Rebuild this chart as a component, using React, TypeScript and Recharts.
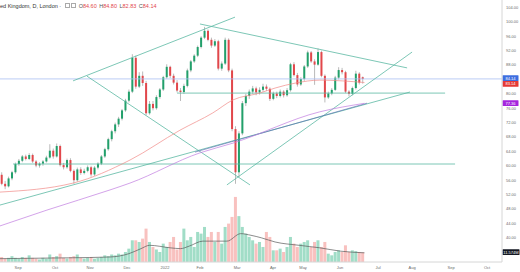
import { ComposedChart, Bar, Line, XAxis, YAxis, ReferenceLine, Cell } from 'recharts';

// candles (two trading days per candle), price in GBp
const opens = [57.5, 55.0, 54.3, 56.5, 58.2, 60.5, 61.4, 62.6, 61.9, 63.0, 61.2, 60.1, 60.6, 61.2, 62.3, 64.2, 62.6, 65.5, 60.2, 59.6, 61.6, 58.6, 56.0, 59.0, 58.0, 58.6, 59.6, 57.6, 59.5, 60.6, 62.6, 64.6, 67.4, 69.6, 71.5, 73.1, 75.4, 78.1, 80.6, 90.0, 82.0, 85.0, 83.0, 74.6, 77.2, 76.0, 79.1, 81.2, 84.6, 87.5, 85.0, 83.1, 80.9, 80.5, 82.2, 86.5, 89.0, 90.6, 93.0, 95.6, 97.5, 95.0, 93.4, 94.6, 87.0, 88.4, 95.0, 86.5, 70.2, 58.2, 69.0, 77.4, 79.4, 80.6, 81.5, 80.4, 81.1, 82.0, 81.4, 78.6, 80.1, 79.4, 80.6, 79.6, 81.0, 88.2, 85.2, 82.6, 84.1, 87.6, 91.5, 89.0, 88.1, 91.6, 85.0, 79.0, 80.1, 81.1, 84.5, 86.6, 86.0, 80.6, 80.0, 81.6, 85.6, 84.6];
const highs = [58.2, 55.8, 57.0, 58.6, 60.9, 61.9, 63.0, 63.1, 63.5, 63.4, 61.6, 61.0, 61.6, 62.8, 66.0, 64.8, 66.2, 65.9, 60.8, 62.0, 62.1, 59.0, 59.5, 59.6, 59.2, 60.1, 60.0, 59.9, 61.0, 63.0, 65.0, 67.8, 70.0, 72.0, 73.6, 75.8, 78.6, 81.2, 91.0, 90.6, 86.0, 86.2, 83.6, 78.0, 78.0, 79.6, 81.6, 85.0, 88.2, 87.8, 85.6, 83.8, 81.6, 82.8, 87.0, 89.4, 91.0, 93.4, 96.0, 98.6, 97.9, 95.6, 95.2, 95.0, 89.0, 95.6, 95.4, 87.0, 71.0, 69.6, 78.0, 80.0, 81.2, 82.2, 82.0, 81.8, 82.8, 82.6, 81.8, 80.6, 80.6, 81.2, 81.0, 81.6, 88.6, 88.8, 85.8, 84.6, 88.0, 92.0, 91.9, 89.6, 92.6, 92.0, 85.4, 80.6, 81.6, 85.0, 87.4, 87.2, 86.4, 81.0, 82.0, 86.4, 86.0, 84.8];
const lows = [54.6, 53.5, 54.0, 56.0, 57.8, 60.0, 61.0, 61.5, 61.6, 60.8, 59.6, 59.5, 60.0, 60.9, 62.0, 62.0, 62.3, 59.8, 59.0, 59.2, 58.2, 55.0, 55.6, 57.5, 57.6, 58.2, 57.0, 57.2, 59.0, 60.2, 62.2, 64.2, 66.8, 69.0, 70.8, 72.6, 75.0, 77.6, 80.2, 81.4, 81.6, 82.2, 74.0, 74.2, 75.4, 75.6, 78.6, 80.8, 84.2, 84.4, 82.6, 80.4, 78.0, 80.0, 81.8, 86.0, 88.6, 90.2, 92.6, 95.2, 94.6, 92.8, 93.0, 86.5, 86.4, 88.0, 86.0, 69.6, 55.0, 56.8, 68.5, 76.6, 78.6, 80.0, 79.6, 79.8, 80.6, 80.8, 78.0, 78.2, 78.8, 79.0, 79.0, 79.2, 80.6, 84.8, 82.0, 82.2, 83.6, 87.2, 88.6, 82.5, 87.8, 84.6, 77.6, 78.6, 79.6, 80.8, 84.0, 85.4, 80.2, 79.3, 79.6, 81.2, 82.6, 82.83];
const closes = [55.0, 54.3, 56.5, 58.2, 60.5, 61.4, 62.6, 61.9, 63.0, 61.2, 60.1, 60.6, 61.2, 62.3, 64.2, 62.6, 65.5, 60.2, 59.6, 61.6, 58.6, 56.0, 59.0, 58.0, 58.6, 59.6, 57.6, 59.5, 60.6, 62.6, 64.6, 67.4, 69.6, 71.5, 73.1, 75.4, 78.1, 80.6, 90.0, 82.0, 85.0, 83.0, 74.6, 77.2, 76.0, 79.1, 81.2, 84.6, 87.5, 85.0, 83.1, 80.9, 80.5, 82.2, 86.5, 89.0, 90.6, 93.0, 95.6, 97.5, 95.0, 93.4, 94.6, 87.0, 88.4, 95.0, 86.5, 70.2, 58.2, 69.0, 77.4, 79.4, 80.6, 81.5, 80.4, 81.1, 82.0, 81.4, 78.6, 80.1, 79.4, 80.6, 79.6, 81.0, 88.2, 85.2, 82.6, 84.1, 87.6, 91.5, 89.0, 88.1, 91.6, 85.0, 79.0, 80.1, 81.1, 84.5, 86.6, 86.0, 80.6, 80.0, 81.6, 85.6, 83.1, 84.14];
// volume, millions
const volumes = [6, 4, 5, 7, 5, 4, 6, 5, 8, 5, 4, 3, 5, 4, 9, 6, 7, 10, 5, 4, 6, 7, 9, 5, 4, 5, 6, 4, 5, 6, 8, 7, 9, 8, 10, 9, 12,
  16, 26, 26, 24, 28, 40, 24, 18, 15, 12, 22, 18, 24, 30, 15, 24, 40, 26, 30, 18, 36, 34, 42, 30, 36, 24, 36, 22, 42, 46,
  54, 78, 55, 42, 34, 30, 26, 22, 24, 18, 36, 30, 14, 14, 16, 12, 18, 30, 22, 18, 22, 24, 26, 18, 24, 26, 18, 24, 10, 8,
  12, 14, 12, 20, 12, 14, 13, 12, 11.574];

// moving averages, sampled as [day, value]
const ma50 = [[0, 52.7], [42.5, 55.2], [75.6, 61.6], [104.7, 69.9], [123.8, 74.7], [135.5, 78.3], [151, 80.2], [160, 81.6], [172, 83], [186, 83.8], [212, 83.14]];
const ma200 = [[0, 43.3], [27.3, 47.7], [64, 53.3], [75.6, 55.2], [116.3, 63.6], [135.5, 66.3], [186, 75], [212, 77.36]];
const volMa = [[0, 4], [40, 5], [64, 6], [75, 10], [82, 16], [87, 20], [99, 17], [105, 16], [110, 19], [118, 25], [132, 25], [140, 34], [146, 32], [152, 29], [160, 24], [174, 20], [186, 17], [198, 13], [212, 11]];

// drawn trend lines [[day, price], [day, price]]
const trendLines = [
  [[42.5, 83.6], [136.7, 101.3]],
  [[50.6, 84.9], [145.4, 54.7]],
  [[116.3, 99.4], [236.8, 87.2]],
  [[132, 54.7], [239.7, 91.6]],
  [[0, 49.1], [238.5, 80.5]],
  [[103, 80.2], [258.9, 80.2]],
  [[7.6, 60.5], [264.7, 60.5]],
];
const blueLine = [[113.4, 63.8], [213.5, 77.4]];

const monthTicks = [10.5, 32, 52.4, 73.9, 96, 116.3, 137.9, 158.8, 176.3, 197.8, 219.9, 239.7, 262.4, 283.3];
const monthLabels = ['Sep', 'Oct', 'Nov', 'Dec', '2022', 'Feb', 'Mar', 'Apr', 'May', 'Jun', 'Jul', 'Aug', 'Sep', 'Oct'];
const priceTicks = [40, 44, 48, 52, 56, 60, 64, 68, 72, 76, 80, 88, 92, 96, 100, 104];

const UP = '#22a06b';
const DOWN = '#e2474b';

const candles = opens.map((o, k) => ({
  t: 1 + 2 * k,
  open: o,
  high: highs[k],
  low: lows[k],
  close: closes[k],
  vol: volumes[k],
}));
const toPts = (arr: number[][], key = 'v') => arr.map(([t, v]) => ({ t, [key]: v }));

const Candle = (props: any) => {
  const { x, y, width, height, payload } = props;
  const { open, close, high, low } = payload;
  const top = Math.min(y, y + height);
  const h = Math.abs(height);
  const r = high === low ? 0 : h / (high - low);
  const yo = top + (high - open) * r;
  const yc = top + (high - close) * r;
  const cx = x + width / 2;
  const up = close >= open;
  return (
    <g>
      <line x1={cx} x2={cx} y1={top} y2={top + h} stroke="#8c8c8c" strokeWidth={0.6} />
      <rect x={cx - 1} y={Math.min(yo, yc)} width={2} height={Math.max(0.6, Math.abs(yc - yo))} fill={up ? UP : DOWN} />
    </g>
  );
};

const Tag = (props: any) => {
  const { viewBox, text, bg, w = 16, dy = 0 } = props;
  if (!viewBox) return null;
  const { x, y, width } = viewBox;
  return (
    <g>
      <rect x={x + width + 0.5} y={y - 3 + dy} width={w} height={5.6} fill={bg} rx={0.5} />
      <text x={x + width + 0.5 + w / 2} y={y + 1.3 + dy} textAnchor="middle" fontSize={4} fill="#fff" fontFamily="Liberation Sans">{text}</text>
    </g>
  );
};

const VolBar = (props: any) => {
  const { x, y, width, height, payload } = props;
  const cx = x + width / 2;
  const up = payload.close >= payload.open;
  return <rect x={cx - 1.5} y={y} width={3} height={Math.max(0, height)} fill={up ? '#2fb383' : '#f07672'} fillOpacity={0.45} />;
};

export default function App() {
  const W = 520;
  const H = 272;
  return (
    <div style={{ position: 'fixed', left: 0, top: 0, width: W, height: H, background: '#fff', fontFamily: 'Liberation Sans, Arial, sans-serif' }}>
      {/* volume pane */}
      <div style={{ position: 'absolute', left: 0, top: 0 }}>
        <ComposedChart width={W} height={H} data={candles} margin={{ top: 0, right: 18, bottom: 10, left: 0 }}>
          <XAxis dataKey="t" type="number" domain={[0, 292]} hide />
          <YAxis yAxisId="vol" domain={[0, 314]} hide />
          <Bar yAxisId="vol" dataKey="vol" barSize={3} shape={<VolBar />} isAnimationActive={false}>
            {candles.map((c, i) => <Cell key={i} />)}
          </Bar>
          <Line yAxisId="vol" data={toPts(volMa)} dataKey="v" type="monotone" stroke="#5a5a5a" strokeWidth={0.7} dot={false} isAnimationActive={false} />
          <ReferenceLine yAxisId="vol" y={11.574} stroke="none" label={<Tag text="11.574M" bg="#131722" w={17} />} />
        </ComposedChart>
      </div>
      {/* price pane */}
      <div style={{ position: 'absolute', left: 0, top: 0 }}>
        <ComposedChart width={W} height={H} data={candles} margin={{ top: 0, right: 0, bottom: 0, left: 0 }}>
          <XAxis dataKey="t" type="number" domain={[0, 292]} ticks={monthTicks} height={10}
            tickFormatter={(_v: number, i: number) => monthLabels[i]} tickLine={false} tickSize={2}
            axisLine={{ stroke: '#d6d6d6' }} tick={{ fontSize: 4, fill: '#6b6b6b', fontFamily: 'Liberation Sans' }} interval={0} />
          <YAxis orientation="right" domain={[33.28, 106.06]} allowDataOverflow ticks={priceTicks} width={18}
            tickFormatter={(v: number) => v.toFixed(2)} tickLine={false} tickSize={2}
            axisLine={{ stroke: '#d6d6d6' }} tick={{ fontSize: 4, fill: '#6b6b6b', fontFamily: 'Liberation Sans' }} interval={0} />
          <ReferenceLine y={84.14} stroke="#a9bff2" strokeWidth={0.8} />
          {trendLines.map((seg, i) => (
            <ReferenceLine key={i} segment={[{ x: seg[0][0], y: seg[0][1] }, { x: seg[1][0], y: seg[1][1] }]} stroke="#5cb9a3" strokeWidth={0.8} ifOverflow="visible" />
          ))}
          <ReferenceLine segment={[{ x: blueLine[0][0], y: blueLine[0][1] }, { x: blueLine[1][0], y: blueLine[1][1] }]} stroke="#5561b0" strokeWidth={0.6} />
          <Line data={toPts(ma50)} dataKey="v" type="monotone" stroke="#f08a86" strokeWidth={0.7} dot={false} isAnimationActive={false} />
          <Line data={toPts(ma200)} dataKey="v" type="monotone" stroke="#c07be0" strokeWidth={0.7} dot={false} isAnimationActive={false} />
          <Bar dataKey={(d: any) => [d.low, d.high]} barSize={2} shape={<Candle />} isAnimationActive={false} />
          <ReferenceLine y={84.14} stroke="none" label={<Tag text="84.14" bg="#3d6ee0" dy={-0.6} />} />
          <ReferenceLine y={83.14} stroke="none" label={<Tag text="83.14" bg="#e53935" dy={1.6} />} />
          <ReferenceLine y={77.36} stroke="none" label={<Tag text="77.36" bg="#a526dd" />} />
        </ComposedChart>
      </div>
      {/* legend header */}
      <div style={{ position: 'absolute', left: 0, top: 3, fontSize: 5.5, color: '#333', whiteSpace: 'nowrap', lineHeight: '7px' }}>
        ed Kingdom, D, London ·{' '}
        <span style={{ display: 'inline-block', width: 3, height: 3, border: '0.5px solid #aaa', marginLeft: 2 }} />
        <span style={{ display: 'inline-block', width: 3, height: 3, border: '0.5px solid #aaa', marginLeft: 1, marginRight: 3 }} />
        {[['O', '84.60'], ['H', '84.80'], ['L', '82.83'], ['C', '84.14']].map(([k, v]) => (
          <span key={k} style={{ marginRight: 2.5 }}>
            <span style={{ color: '#555' }}>{k}</span>
            <span style={{ color: DOWN }}>{v}</span>
          </span>
        ))}
      </div>
    </div>
  );
}
